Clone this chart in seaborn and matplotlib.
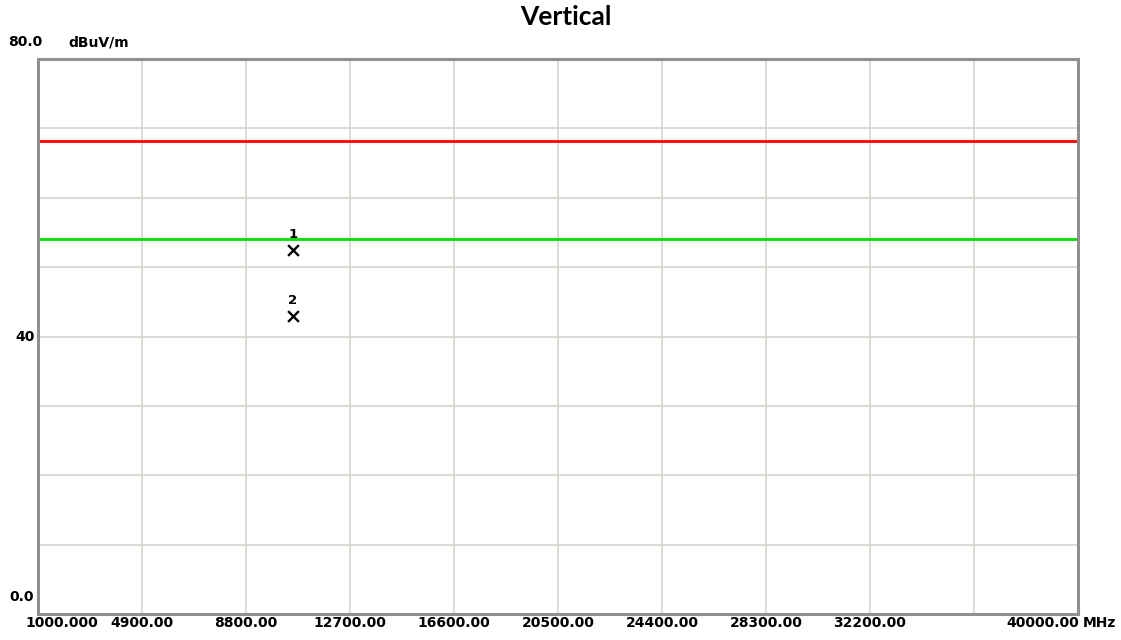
import matplotlib
matplotlib.use("Agg")
import matplotlib.pyplot as plt
import seaborn as sns
import pandas as pd
import numpy as np

# data
x_ticks = [1000, 4900, 8800, 12700, 16600, 20500, 24400, 28300, 32200, 36100, 40000]
x_labels = ["1000.000", "4900.00", "8800.00", "12700.00", "16600.00", "20500.00",
            "24400.00", "28300.00", "32200.00", "", "40000.00"]
y_ticks = [0, 10, 20, 30, 40, 50, 60, 70, 80]

limit_names = ["limit_red", "limit_green"]
limit_values = [68.2, 54.0]
limit_colors = ["#ff0000", "#00e000"]

marker_ids = ["1", "2"]
marker_freq = [10560, 10560]
marker_level = [52.5, 43.0]

sns.set_style("white")
plt.rcParams['font.family'] = ['DejaVu Sans']
plt.rcParams['text.color'] = 'black'

fig = plt.figure(figsize=(11.21, 6.40), dpi=100)
ax = fig.add_axes([38 / 1121, 1 - 614 / 640, 1040 / 1121, 555 / 640])

ax.set_xlim(1000, 40000)
ax.set_ylim(0, 80)

# grid
for xv in x_ticks[1:-1]:
    ax.axvline(xv, color="#d8d4d0", lw=1.2, zorder=0)
for yv in y_ticks[1:-1]:
    ax.axhline(yv, color="#d8d4d0", lw=1.2, zorder=0)

# limit lines
lim_df = pd.DataFrame({
    "freq": np.repeat([1000, 40000], len(limit_values)),
    "level": limit_values * 2,
    "name": limit_names * 2,
})
sns.lineplot(data=lim_df, x="freq", y="level", hue="name",
             palette=dict(zip(limit_names, limit_colors)), lw=2, legend=False, ax=ax)

# markers
mk_df = pd.DataFrame({"freq": marker_freq, "level": marker_level, "id": marker_ids})
sns.scatterplot(data=mk_df, x="freq", y="level", marker="x", s=60, color="black",
                linewidth=1.7, legend=False, ax=ax, zorder=5)
for _, r in mk_df.iterrows():
    ax.text(r["freq"], r["level"] + 1.3, r["id"], ha="center", va="bottom",
            fontsize=9.5, fontweight="bold")

ax.set_xticks([])
ax.set_yticks([])
ax.set_xlabel("")
ax.set_ylabel("")
for side, sp in ax.spines.items():
    sp.set_color("#909090")
    sp.set_linewidth(2.2)
    sp.set_visible(True)

lab_kw = dict(fontsize=10, fontweight="bold", color="black")
y_lab = 1 - 623 / 640
for xv, lb in zip(x_ticks, x_labels):
    if not lb:
        continue
    if xv == x_ticks[0]:
        fig.text(25 / 1121, y_lab, lb, ha="left", va="center", **lab_kw)
    elif xv == x_ticks[-1]:
        fig.text(1079 / 1121, y_lab, lb, ha="right", va="center", **lab_kw)
    else:
        ax.text(xv, -9 / 555, lb, ha="center", va="center",
                transform=ax.get_xaxis_transform(), **lab_kw)
fig.text(1083 / 1121, y_lab, "MHz", ha="left", va="center", **lab_kw)

fig.text(8 / 1121, 1 - 42 / 640, "80.0", ha="left", va="center", **lab_kw)
fig.text(68 / 1121, 1 - 42 / 640, "dBuV/m", ha="left", va="center", **lab_kw)
fig.text(35 / 1121, 1 - 337 / 640, "40", ha="right", va="center", **lab_kw)
fig.text(34 / 1121, 1 - 597 / 640, "0.0", ha="right", va="center", **lab_kw)

fig.text(566 / 1121, 1 - 17 / 640, "Vertical", ha="center", va="center",
         fontsize=19, fontweight="bold", color="black",
         family=["Lato", "DejaVu Sans"])

fig.savefig("out.png", dpi=100, facecolor="white")
